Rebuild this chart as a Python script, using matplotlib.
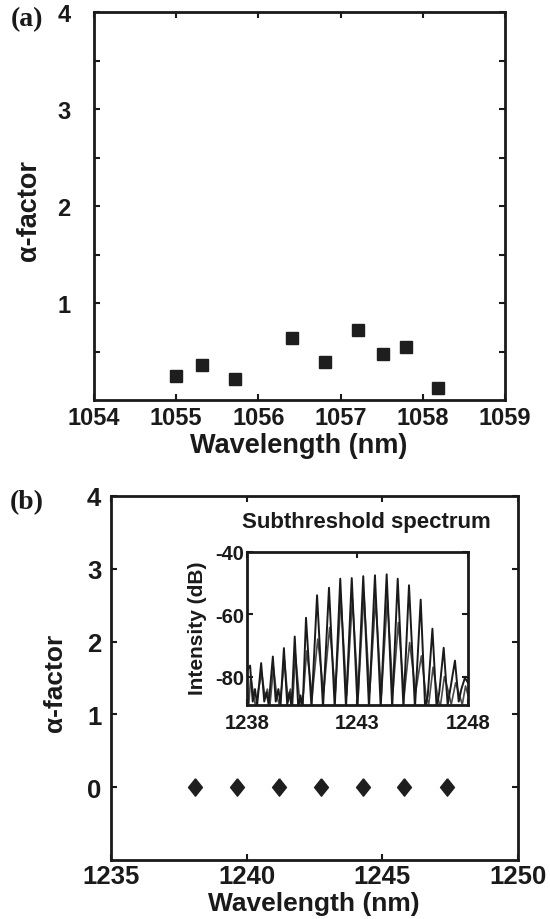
import matplotlib
matplotlib.use("Agg")
import matplotlib.pyplot as plt
import numpy as np

plt.rcParams['font.family'] = ['Liberation Sans', 'DejaVu Sans']
plt.rcParams['font.weight'] = 'bold'
plt.rcParams['axes.unicode_minus'] = False

# ---- panel (a): alpha factor around 1057 nm ----
wl_a = [1055.00, 1055.31, 1055.71, 1056.41, 1056.81, 1057.21, 1057.51, 1057.80, 1058.19]
alpha_a = [0.25, 0.36, 0.22, 0.64, 0.395, 0.72, 0.47, 0.55, 0.12]

# ---- panel (b): alpha factor around 1243 nm ----
wl_b = [1238.11, 1239.65, 1241.20, 1242.73, 1244.28, 1245.81, 1247.39]
alpha_b = [0, 0, 0, 0, 0, 0, 0]

spec1_wl = [1238.00, 1238.14, 1238.26, 1238.36, 1238.46, 1238.64, 1238.78, 1238.88,
            1238.98, 1239.17, 1239.30, 1239.42, 1239.52, 1239.67, 1239.82, 1239.92,
            1240.02, 1240.16, 1240.32, 1240.42, 1240.52, 1240.67, 1240.92, 1241.17,
            1241.44, 1241.71, 1241.97, 1242.22, 1242.48, 1242.74, 1243.00, 1243.26,
            1243.52, 1243.79, 1244.05, 1244.32, 1244.57, 1244.82, 1245.08, 1245.33,
            1245.60, 1245.86, 1246.06, 1246.18, 1246.39, 1246.58, 1246.70, 1246.90,
            1247.08, 1247.20, 1247.41, 1247.58, 1247.70, 1247.86, 1248.00]
spec1_db = [-78, -76.5, -88, -84, -89, -75.7, -88, -85, -89, -73.6, -88, -84, -89, -70.9,
            -89, -85, -90, -67.2, -90, -86, -90, -61.2, -90, -54.0, -90, -51.6, -90,
            -48.7, -90, -48.5, -90, -47.9, -90, -47.6, -90, -47.3, -90, -48.7, -90,
            -50.8, -90, -55.4, -90, -86, -64.7, -90, -85, -70.8, -89, -84, -74.9, -88,
            -84, -80.4, -82]

spec2_wl = [1238.00, 1238.08, 1238.17, 1238.30, 1238.40, 1238.52, 1238.67, 1238.82,
            1238.92, 1239.04, 1239.20, 1239.34, 1239.46, 1239.56, 1239.70, 1239.86,
            1239.96, 1240.06, 1240.19, 1240.36, 1240.46, 1240.56, 1240.70, 1240.95,
            1241.20, 1241.47, 1241.74, 1242.00, 1242.25, 1242.51, 1242.77, 1243.03,
            1243.29, 1243.55, 1243.82, 1244.08, 1244.35, 1244.60, 1244.85, 1245.11,
            1245.36, 1245.63, 1245.89, 1246.10, 1246.22, 1246.42, 1246.62, 1246.74,
            1246.93, 1247.12, 1247.24, 1247.44, 1247.62, 1247.74, 1247.89, 1248.00]
spec2_db = [-84, -89, -80, -86, -90, -84, -79, -87, -84, -89, -77, -86, -89, -84, -75,
            -88, -84, -89, -73, -86, -89, -85, -71.8, -86, -68, -85, -64.3, -85, -55.2,
            -86, -55.2, -86, -53.6, -85, -55.2, -86, -55.2, -85, -62.7, -86, -69.1,
            -85, -73.4, -86, -89, -77, -86, -90, -80, -85, -89, -82, -86, -89, -83, -86]

mk_color = '#1e1e1e'
frame_lw = 2.0

fig = plt.figure(figsize=(5.5, 9.2), dpi=100)


def style_axes(ax, lab_size, pad_x, pad_y):
    for s in ax.spines.values():
        s.set_linewidth(frame_lw)
        s.set_color('#1a1a1a')
    ax.tick_params(axis='both', which='both', direction='in', top=True, right=True,
                   length=4, width=1.5, labelsize=lab_size, colors='#1a1a1a')
    ax.tick_params(axis='x', which='both', pad=pad_x)
    ax.tick_params(axis='y', which='both', pad=pad_y)
    for lab in ax.get_xticklabels() + ax.get_yticklabels():
        lab.set_fontweight('bold')


# ---------- (a) ----------
ax1 = fig.add_axes([94 / 550, 1 - 401 / 920, 411 / 550, 388 / 920])
ax1.plot(wl_a, alpha_a, linestyle='none', marker='s', markersize=8.5,
         color=mk_color)
ax1.set_xlim(1054, 1059)
ax1.set_ylim(0, 4)
ax1.set_xticks([1054, 1055, 1056, 1057, 1058, 1059])
ax1.set_yticks([1, 2, 3, 4])
ax1.set_yticks([0.5, 1.5, 2.5, 3.5], minor=True)
style_axes(ax1, 17, 4, 17)
ax1.set_xlabel('Wavelength (nm)', fontsize=19.5, fontweight='bold', color='#1a1a1a')
ax1.xaxis.set_label_coords(0.499, -0.082)
ax1.set_ylabel('α-factor', fontsize=19.5, fontweight='bold', color='#1a1a1a')
ax1.yaxis.set_label_coords(-0.1265, 0.492)
fig.text(0.02, 1 - 20 / 920, '(a)', fontsize=20, fontweight='bold',
         family=['Liberation Serif', 'DejaVu Serif'], va='center', ha='left',
         color='#1a1a1a')

# ---------- (b) ----------
ax2 = fig.add_axes([111 / 550, 1 - 861 / 920, 407 / 550, 364 / 920])
diamond = [(0, 1), (0.8, 0), (0, -1), (-0.8, 0), (0, 1)]
ax2.plot(wl_b, alpha_b, linestyle='none', marker=diamond, markersize=12.5,
         color=mk_color)
ax2.set_xlim(1235, 1250)
ax2.set_ylim(-1, 4)
ax2.set_xticks([1235, 1240, 1245, 1250])
ax2.set_yticks([0, 1, 2, 3, 4])
style_axes(ax2, 18.5, 3, 7)
ax2.set_xlabel('Wavelength (nm)', fontsize=19, fontweight='bold', color='#1a1a1a')
ax2.xaxis.set_label_coords(0.499, -0.085)
ax2.set_ylabel('α-factor', fontsize=19, fontweight='bold', color='#1a1a1a')
ax2.yaxis.set_label_coords(-0.109, 0.49)
fig.text(0.018, 1 - 503 / 920, '(b)', fontsize=20, fontweight='bold',
         family=['Liberation Serif', 'DejaVu Serif'], va='center', ha='left',
         color='#1a1a1a')

# ---------- inset ----------
ax3 = fig.add_axes([247 / 550, 1 - 705.7 / 920, 221 / 550, 153.2 / 920])
ax3.plot(spec2_wl, spec2_db, color='#4a4a4a', linewidth=1.2)
ax3.plot(spec1_wl, spec1_db, color='#1a1a1a', linewidth=1.4)
ax3.set_xlim(1238, 1248)
ax3.set_ylim(-89, -40)
ax3.set_xticks([1238, 1243, 1248])
ax3.set_yticks([-40, -60, -80])
style_axes(ax3, 14.5, 6, 2)
ax3.set_ylabel('Intensity (dB)', fontsize=15, fontweight='bold', color='#1a1a1a')
ax3.yaxis.set_label_coords(-0.183, 0.507)
ax3.text(0.538, 1.193, 'Subthreshold spectrum', transform=ax3.transAxes,
         ha='center', va='center', fontsize=16, fontweight='bold', color='#1a1a1a')

fig.savefig('out.png', dpi=100)
